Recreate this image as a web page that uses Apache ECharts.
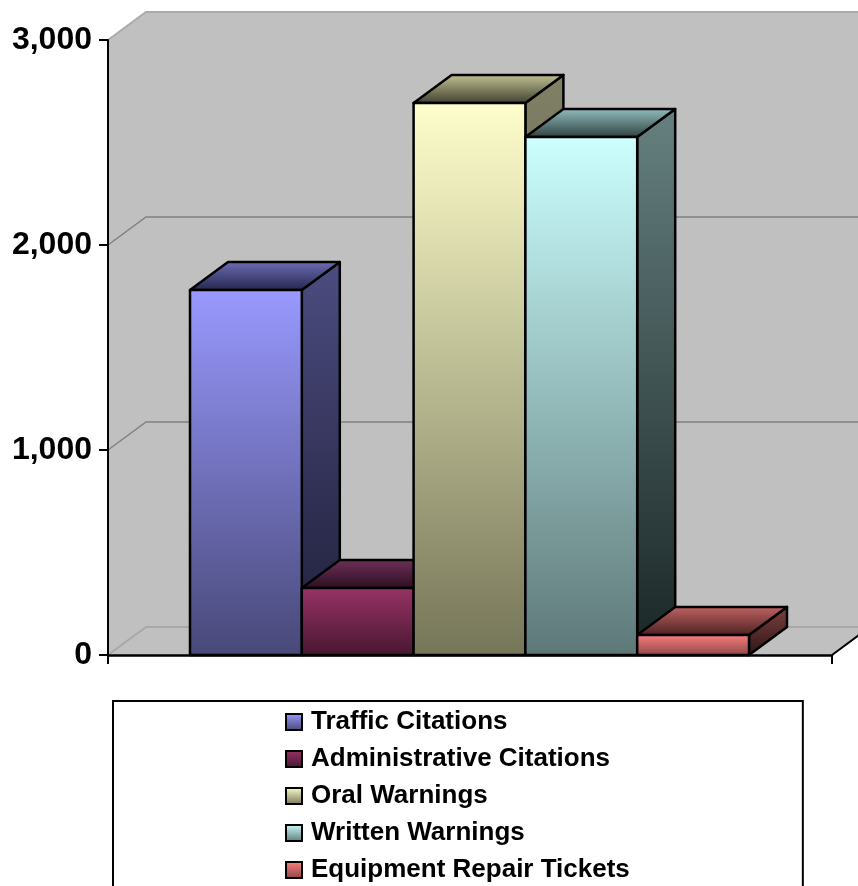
<!DOCTYPE html>
<html><head><meta charset="utf-8">
<style>html,body{margin:0;padding:0;background:#fff}#c{width:858px;height:886px}</style>
<script src="https://cdn.jsdelivr.net/npm/echarts@6/dist/echarts.min.js"></script>
</head><body><div id="c"></div>
<script>
const seriesNames = ['Traffic Citations','Administrative Citations','Oral Warnings','Written Warnings','Equipment Repair Tickets'];
const seriesValues = [1780, 327, 2693, 2527, 98];
const categories = [''];
const tickValues = [0, 1000, 2000, 3000];
const frontColors = [['#9999FF','#484878'],['#993366','#471730'],['#FFFFCC','#757558'],['#CCFFFF','#5E7878'],['#FF8080','#8A4545']];
const sideColors  = [['#4C4C80','#1E1E38'],['#4C1933','#2A0E1C'],['#808066','#55553F'],['#668080','#1A2626'],['#7F4040','#2E1616']];
const topColors   = [['#6E6EB8','#24244A'],['#70305A','#2A0E1E'],['#C4C496','#3E3E2E'],['#94C0C0','#2E3E3E'],['#C46464','#4A2020']];

const BAR_FRACTION = 111.8 / 724, GAP_FRACTION = 82 / 724, DEPTH_X = 38 / 724, DEPTH_Y = 28 / 615;
const grad = (c) => ({type:'linear',x:0,y:0,x2:0,y2:1,colorStops:[{offset:0,color:c[0]},{offset:1,color:c[1]}]});
const EDGE = {stroke:'#000',lineWidth:2.5,lineJoin:'round'};

function barRenderer(i){
  return function(params, api){
    const base = api.coord([0, 0]);
    const topPt = api.coord([0, api.value(1)]);
    const band = api.size([1, 0])[0];
    const plotH = api.coord([0,0])[1] - api.coord([0,3000])[1];
    const left0 = base[0] - band/2 + band*GAP_FRACTION;
    const x0 = left0 + band*BAR_FRACTION*i, x1 = x0 + band*BAR_FRACTION;
    const dx = band*DEPTH_X, dy = plotH*DEPTH_Y;
    const y0 = base[1], y1 = topPt[1];
    return {type:'group',children:[
      {type:'polygon',shape:{points:[[x1,y1],[x1+dx,y1-dy],[x1+dx,y0-dy],[x1,y0]]},style:Object.assign({fill:grad(sideColors[i])},EDGE)},
      {type:'polygon',shape:{points:[[x0,y1],[x0+dx,y1-dy],[x1+dx,y1-dy],[x1,y1]]},style:Object.assign({fill:grad(topColors[i])},EDGE)},
      {type:'polygon',shape:{points:[[x0,y1],[x1,y1],[x1,y0],[x0,y0]]},style:Object.assign({fill:grad(frontColors[i])},EDGE)}
    ]};
  };
}
function wallRenderer(params, api){
  const band = api.size([1, 0])[0];
  const c = api.coord([0, 0]);
  const xl = c[0]-band/2, xr = c[0]+band/2;
  const top = api.coord([0, tickValues[tickValues.length-1]])[1];
  const bot = c[1];
  const dx = band*DEPTH_X, dy = (bot-top)*DEPTH_Y;
  const kids = [{type:'polygon',shape:{points:[[xl,bot],[xl,top],[xl+dx,top-dy],[xr+dx,top-dy],[xr+dx,bot-dy],[xr,bot]]},style:{fill:'#C0C0C0',stroke:null}}];
  tickValues.forEach(v=>{
    const y = api.coord([0,v])[1];
    const col = v===3000 ? '#ABABAB' : v===0 ? '#A8A8A8' : '#808080';
    kids.push({type:'polyline',shape:{points:[[xl,y],[xl+dx,y-dy],[xr+dx,y-dy]]},style:{fill:null,stroke:col,lineWidth:v===1000||v===2000?1.5:2}});
  });
  kids.push({type:'line',shape:{x1:xr,y1:bot,x2:xr+dx,y2:bot-dy},style:{stroke:'#000',lineWidth:2}});
  return {type:'group',children:kids};
}

const legendIconItems = seriesNames.map((n,i)=>({name:n,icon:'rect',itemStyle:{color:grad(frontColors[i]),borderColor:'#000',borderWidth:2}}));
const chart = echarts.init(document.getElementById('c'),null,{renderer:'canvas',width:858,height:886});
chart.setOption({
  animation:false,
  backgroundColor:'#fff',
  grid:{left:108,top:40,width:724,height:615,containLabel:false},
  xAxis:{type:'category',data:categories,z:10,axisLine:{lineStyle:{color:'#000',width:2.5}},axisTick:{show:true,length:9,lineStyle:{color:'#000',width:2}},axisLabel:{show:false},splitLine:{show:false}},
  yAxis:{type:'value',min:0,max:3000,interval:1000,z:10,axisLine:{show:true,lineStyle:{color:'#000',width:2}},axisTick:{show:true,length:9,lineStyle:{color:'#000',width:2}},
    axisLabel:{color:'#000',fontFamily:'Liberation Sans',fontWeight:'bold',fontSize:32,margin:16,formatter:v=>v.toLocaleString('en-US')},splitLine:{show:false}},
  legend:{orient:'vertical',left:113,top:701,height:400,backgroundColor:'#fff',borderColor:'#000',borderWidth:2,borderRadius:0,
    padding:[6,173,34,172],itemGap:7,itemWidth:16,itemHeight:16,data:legendIconItems,selectedMode:false,
    textStyle:{color:'#000',fontFamily:'Liberation Sans',fontWeight:'bold',fontSize:26,lineHeight:30,padding:[0,0,0,4]}},
  series:[{type:'custom',name:'wall',z:1,silent:true,renderItem:wallRenderer,data:[[0,3000]]}].concat(
    seriesNames.map((n,i)=>({type:'custom',name:n,z:2+i,silent:true,renderItem:barRenderer(i),itemStyle:{color:frontColors[i][0]},data:[[0,seriesValues[i]]]})))
});
</script></body></html>
